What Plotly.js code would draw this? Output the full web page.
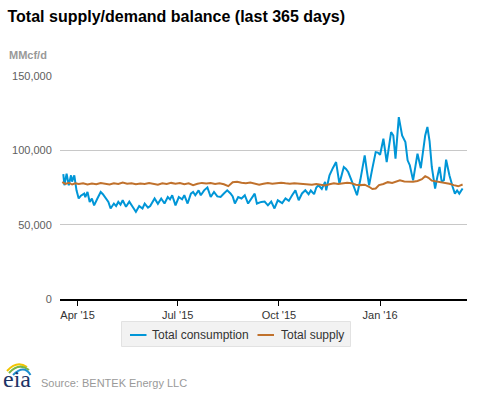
<!DOCTYPE html>
<html>
<head>
<meta charset="utf-8">
<script src="https://cdn.plot.ly/plotly-3.0.1.min.js"></script>
<style>html,body{margin:0;padding:0;background:#fff;}#chart{width:477px;height:393px;}</style>
</head>
<body>
<div id="chart"></div>
<script>
// ---- data ----
var consumptionDates = [
"2015-03-19","2015-03-20","2015-03-22","2015-03-24","2015-03-26","2015-03-27","2015-03-29","2015-03-31",
"2015-04-02","2015-04-04","2015-04-07","2015-04-08","2015-04-10","2015-04-12","2015-04-14","2015-04-16",
"2015-04-19","2015-04-22","2015-04-24","2015-04-26","2015-04-29","2015-05-01","2015-05-04","2015-05-06",
"2015-05-08","2015-05-10","2015-05-12","2015-05-15","2015-05-18","2015-05-21","2015-05-24","2015-05-27",
"2015-05-30","2015-06-01","2015-06-04","2015-06-06","2015-06-10","2015-06-13","2015-06-16","2015-06-19",
"2015-06-22","2015-06-24","2015-06-26","2015-06-29","2015-07-02","2015-07-05","2015-07-07","2015-07-10",
"2015-07-13","2015-07-15","2015-07-17","2015-07-20","2015-07-22","2015-07-25","2015-07-28","2015-07-31",
"2015-08-03","2015-08-06","2015-08-09","2015-08-12","2015-08-15","2015-08-18","2015-08-20","2015-08-22",
"2015-08-25","2015-08-28","2015-08-31","2015-09-03","2015-09-06","2015-09-09","2015-09-11","2015-09-15",
"2015-09-18","2015-09-21","2015-09-24","2015-09-27","2015-09-30","2015-10-04","2015-10-07","2015-10-10",
"2015-10-13","2015-10-16","2015-10-19","2015-10-22","2015-10-25","2015-10-28","2015-10-30","2015-11-02",
"2015-11-04","2015-11-06","2015-11-09","2015-11-12","2015-11-13","2015-11-16","2015-11-19","2015-11-22",
"2015-11-25","2015-11-29","2015-12-01","2015-12-03","2015-12-06","2015-12-11","2015-12-14","2015-12-18",
"2015-12-20","2015-12-22","2015-12-25","2015-12-28","2015-12-30","2016-01-01","2016-01-04","2016-01-07",
"2016-01-11","2016-01-13","2016-01-15","2016-01-18","2016-01-21","2016-01-24","2016-01-26","2016-01-28",
"2016-01-31","2016-02-02","2016-02-04","2016-02-07","2016-02-11","2016-02-13","2016-02-15","2016-02-17",
"2016-02-20","2016-02-22","2016-02-24","2016-02-26","2016-02-28","2016-03-01","2016-03-04","2016-03-07",
"2016-03-09","2016-03-11","2016-03-13","2016-03-16"
];
var consumptionValues = [
84000,76500,84300,76500,83200,79000,83200,73100,
67600,69500,70900,68500,72000,65300,67500,63000,
67600,72000,70500,68600,65300,60900,64200,62500,
65300,63500,66400,62000,65500,62000,58600,62500,
60900,64200,61500,62500,67600,64000,67600,64200,
68600,67000,69800,63000,68600,67000,69800,64200,
70900,72000,69800,73100,69800,73100,75000,68600,
72000,69000,68600,71000,73100,71000,69000,64200,
68600,67600,69800,64200,68000,70900,64200,65300,
65500,63000,65500,60900,66400,64500,67600,66000,
69800,73100,66400,71000,73100,70500,73000,70500,
75000,76500,74000,78800,73100,83200,88000,92100,
77600,88800,87500,85400,79800,69800,80000,96600,
86000,76500,88000,98800,98500,97000,107800,92100,
112300,110000,94400,122300,110000,105500,93300,90000,
79800,90000,97800,88000,110000,115700,106000,88800,
74300,82000,88800,79000,80000,93700,83200,75300,
70900,73000,70900,74300
];

var supplyDates = [
"2015-03-18","2015-03-21","2015-03-24","2015-03-27","2015-03-30","2015-04-02","2015-04-06","2015-04-10",
"2015-04-14","2015-04-18","2015-04-22","2015-04-26","2015-04-30","2015-05-04","2015-05-08","2015-05-12",
"2015-05-16","2015-05-20","2015-05-24","2015-05-28","2015-06-01","2015-06-05","2015-06-09","2015-06-13",
"2015-06-17","2015-06-21","2015-06-25","2015-06-29","2015-07-03","2015-07-07","2015-07-11","2015-07-15",
"2015-07-19","2015-07-23","2015-07-27","2015-07-31","2015-08-04","2015-08-08","2015-08-12","2015-08-16",
"2015-08-20","2015-08-24","2015-08-28","2015-09-01","2015-09-05","2015-09-09","2015-09-13","2015-09-17",
"2015-09-21","2015-09-25","2015-09-29","2015-10-03","2015-10-07","2015-10-11","2015-10-15","2015-10-19",
"2015-10-23","2015-10-27","2015-10-31","2015-11-04","2015-11-08","2015-11-12","2015-11-16","2015-11-20",
"2015-11-24","2015-11-28","2015-12-02","2015-12-06","2015-12-10","2015-12-14","2015-12-18","2015-12-22",
"2015-12-25","2015-12-28","2015-12-31","2016-01-04","2016-01-08","2016-01-12","2016-01-16","2016-01-19",
"2016-01-23","2016-01-27","2016-01-31","2016-02-04","2016-02-08","2016-02-11","2016-02-14","2016-02-17",
"2016-02-21","2016-02-25","2016-02-29","2016-03-04","2016-03-08","2016-03-12","2016-03-16"
];
var supplyValues = [
78600,77400,78200,77000,77800,77300,77900,77100,
77600,77200,78000,77500,77000,77800,77400,78300,
77600,77900,77200,77700,77300,78000,77500,76900,
77800,77400,78100,77600,78000,77200,77800,76600,
77500,78100,77700,78000,77400,77900,77200,75900,
78600,78900,78200,77900,78300,77600,76800,77500,
78000,77600,77900,78200,77800,77500,77900,77600,
77800,77300,76900,77400,76800,76300,77200,77900,
77400,77800,78200,77800,76900,76600,76900,75500,
74000,74300,76600,77400,78600,78000,79000,79800,
79000,78800,78900,79400,80600,82600,81500,79600,
79200,78800,78000,77500,76600,75800,77000
];

var seriesNames = ["Total consumption", "Total supply"];
var seriesColors = ["#0096d7", "#c0712c"];
var xTickVals = ["2015-04-01", "2015-07-01", "2015-10-01", "2016-01-01"];
var xTickText = ["Apr '15", "Jul '15", "Oct '15", "Jan '16"];
var yTickVals = [0, 50000, 100000, 150000];
var yTickText = ["0", "50,000", "100,000", "150,000"];

// ---- layout helpers (pixel -> paper) ----
var L = 60, R = 467, T = 76, B = 299;
function px(x) { return (x - L) / (R - L); }
function py(y) { return (B - y) / (B - T); }

var FONT = "Arial, 'Liberation Sans', sans-serif";

var traces = [
  { x: consumptionDates, y: consumptionValues, type: "scatter", mode: "lines",
    name: seriesNames[0], line: { color: seriesColors[0], width: 2 }, hoverinfo: "skip" },
  { x: supplyDates, y: supplyValues, type: "scatter", mode: "lines",
    name: seriesNames[1], line: { color: seriesColors[1], width: 2 }, hoverinfo: "skip" }
];

var shapes = [
  // legend box
  { type: "rect", xref: "paper", yref: "paper", x0: px(121.5), x1: px(350.5), y0: py(321.5), y1: py(346.5),
    fillcolor: "#f2f2f2", line: { color: "#e2e2e2", width: 1 } },
  // legend samples
  { type: "line", xref: "paper", yref: "paper", x0: px(130), x1: px(146.5), y0: py(335), y1: py(335),
    line: { color: seriesColors[0], width: 2 } },
  { type: "line", xref: "paper", yref: "paper", x0: px(257.5), x1: px(274), y0: py(335), y1: py(335),
    line: { color: seriesColors[1], width: 2 } },
  // eia logo swooshes
  { type: "path", xref: "paper", yref: "paper",
    path: "M " + px(7) + "," + py(371) + " Q " + px(17) + "," + py(360) + " " + px(27) + "," + py(367),
    line: { color: "#f2c500", width: 2 } },
  { type: "path", xref: "paper", yref: "paper",
    path: "M " + px(9) + "," + py(373) + " Q " + px(19) + "," + py(362) + " " + px(29) + "," + py(370),
    line: { color: "#7ab648", width: 2 } },
  { type: "path", xref: "paper", yref: "paper",
    path: "M " + px(13) + "," + py(375) + " Q " + px(24) + "," + py(364) + " " + px(30.5) + "," + py(375),
    line: { color: "#1e8fd0", width: 2 } }
];

var annotations = [
  { text: "<b>MMcf/d</b>", xref: "paper", yref: "paper", x: px(6.5), y: py(54.5), xanchor: "left", yanchor: "middle",
    showarrow: false, font: { family: FONT, size: 11, color: "#999999" } },
  { text: seriesNames[0], xref: "paper", yref: "paper", x: px(150), y: py(334.5), xanchor: "left", yanchor: "middle",
    showarrow: false, font: { family: FONT, size: 12, color: "#333333" } },
  { text: seriesNames[1], xref: "paper", yref: "paper", x: px(278.5), y: py(334.5), xanchor: "left", yanchor: "middle",
    showarrow: false, font: { family: FONT, size: 12, color: "#333333" } },
  { text: "eia", xref: "paper", yref: "paper", x: px(2), y: py(392.5), xanchor: "left", yanchor: "bottom",
    borderpad: 0, showarrow: false,
    font: { family: "'Liberation Serif', 'Times New Roman', serif", size: 24, color: "#1d3466" } },
  { text: "Source: BENTEK Energy LLC", xref: "paper", yref: "paper", x: px(39), y: py(383), xanchor: "left", yanchor: "middle",
    showarrow: false, font: { family: FONT, size: 11, color: "#999999" } }
];

var layout = {
  width: 477, height: 393,
  margin: { l: L, r: 477 - R, t: T, b: 393 - B, pad: 0 },
  paper_bgcolor: "#ffffff", plot_bgcolor: "#ffffff",
  showlegend: false,
  title: { text: "<b>Total supply/demand balance (last 365 days)</b>",
    xref: "container", yref: "container", x: 7.5 / 477, xanchor: "left", y: 1 - 16 / 393, yanchor: "middle",
    font: { family: FONT, size: 16, color: "#000000" } },
  xaxis: {
    type: "date", range: ["2015-03-16", "2016-03-20"],
    tickmode: "array", tickvals: xTickVals, ticktext: xTickText,
    ticks: "outside", ticklen: 5, tickwidth: 1, tickcolor: "#000000",
    showline: true, linecolor: "#000000", linewidth: 1.5,
    showgrid: false, zeroline: false,
    tickfont: { family: FONT, size: 11, color: "#333333" }
  },
  yaxis: {
    range: [0, 150000], tickmode: "array", tickvals: yTickVals, ticktext: yTickText,
    ticks: "outside", ticklen: 5, tickcolor: "rgba(0,0,0,0)",
    showgrid: true, gridcolor: "#c8c8c8", gridwidth: 1,
    showline: false, zeroline: false,
    tickfont: { family: FONT, size: 11, color: "#606060" }
  },
  shapes: shapes,
  annotations: annotations
};

Plotly.newPlot("chart", traces, layout, { staticPlot: true, displayModeBar: false });
</script>
</body>
</html>
